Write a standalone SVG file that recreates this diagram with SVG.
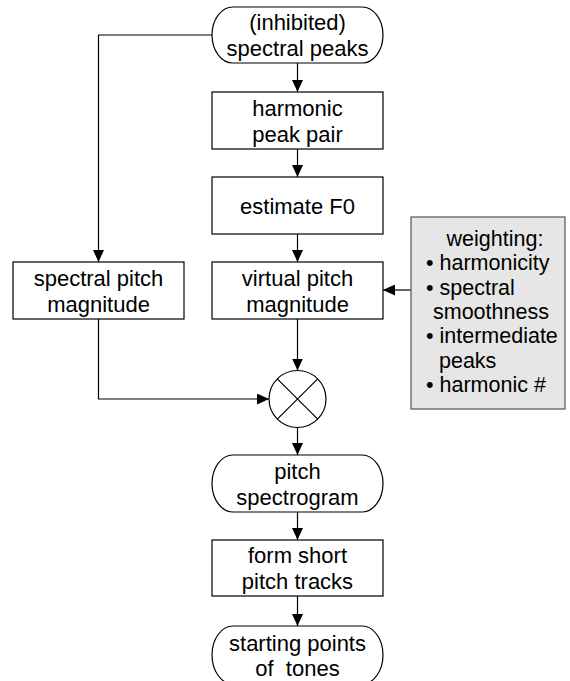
<svg xmlns="http://www.w3.org/2000/svg" width="570" height="681" viewBox="0 0 570 681">
  <style>
    .shape { fill: #ffffff; stroke: #000000; stroke-width: 1.2; }
    .note { fill: #e6e6e6; stroke: #555555; stroke-width: 1.2; }
    .wire { fill: none; stroke: #000000; stroke-width: 1.2; }
    .lbl { font-family: "Liberation Sans", Arial, sans-serif; font-size: 22px; fill: #000000; text-anchor: middle; }
    .lft { font-family: "Liberation Sans", Arial, sans-serif; font-size: 21.5px; fill: #000000; text-anchor: start; white-space: pre; }
  </style>
  <defs>
    <marker id="head" markerUnits="userSpaceOnUse" markerWidth="12" markerHeight="11" refX="12" refY="5.5" orient="auto">
      <path d="M0,0 L12,5.5 L0,11 Z" fill="#000000"/>
    </marker>
  </defs>

  <g id="connectors">
    <line class="wire" x1="297.5" y1="63" x2="297.5" y2="92" marker-end="url(#head)"/>
    <line class="wire" x1="297.5" y1="149" x2="297.5" y2="177" marker-end="url(#head)"/>
    <line class="wire" x1="297.5" y1="234" x2="297.5" y2="262" marker-end="url(#head)"/>
    <line class="wire" x1="297.5" y1="319" x2="297.5" y2="370.5" marker-end="url(#head)"/>
    <polyline class="wire" points="212,35 98.5,35 98.5,262" marker-end="url(#head)"/>
    <polyline class="wire" points="98.5,319 98.5,399 269,399" marker-end="url(#head)"/>
    <line class="wire" x1="411" y1="290" x2="383" y2="290" marker-end="url(#head)"/>
    <line class="wire" x1="297.5" y1="427.5" x2="297.5" y2="455" marker-end="url(#head)"/>
    <line class="wire" x1="297.5" y1="512" x2="297.5" y2="540" marker-end="url(#head)"/>
    <line class="wire" x1="297.5" y1="596" x2="297.5" y2="626" marker-end="url(#head)"/>
  </g>

  <g id="spectral-peaks">
    <path class="shape" d="M233,7 H362 A21,28 0 0 1 362,63 H233 A21,28 0 0 1 233,7 Z"/>
    <text class="lbl" x="297.5" y="30">(inhibited)</text>
    <text class="lbl" x="297.5" y="56">spectral peaks</text>
  </g>

  <g id="harmonic-peak-pair">
    <rect class="shape" x="212" y="92" width="171" height="57"/>
    <text class="lbl" x="297.5" y="115.5">harmonic</text>
    <text class="lbl" x="297.5" y="141.5">peak pair</text>
  </g>

  <g id="estimate-f0">
    <rect class="shape" x="212" y="177" width="171" height="57"/>
    <text class="lbl" x="297.5" y="213.5">estimate F0</text>
  </g>

  <g id="virtual-pitch-magnitude">
    <rect class="shape" x="212" y="262" width="171" height="57"/>
    <text class="lbl" x="297.5" y="285.5">virtual pitch</text>
    <text class="lbl" x="297.5" y="311.5">magnitude</text>
  </g>

  <g id="spectral-pitch-magnitude">
    <rect class="shape" x="13" y="262" width="171" height="57"/>
    <text class="lbl" x="98.5" y="285.5">spectral pitch</text>
    <text class="lbl" x="98.5" y="311.5">magnitude</text>
  </g>

  <g id="weighting">
    <rect class="note" x="411" y="217" width="154" height="192"/>
    <text class="lbl" x="495" y="246" style="font-size:21.5px">weighting:</text>
    <text class="lft" x="426" y="270.3">• harmonicity</text>
    <text class="lft" x="426" y="294.6">• spectral</text>
    <text class="lft" x="433" y="318.9">smoothness</text>
    <text class="lft" x="426" y="343.2">• intermediate</text>
    <text class="lft" x="439" y="367.5">peaks</text>
    <text class="lft" x="426" y="391.8">• harmonic #</text>
  </g>

  <g id="multiply">
    <circle class="shape" cx="297.5" cy="399" r="28.5"/>
    <line class="wire" x1="277.3" y1="378.8" x2="317.7" y2="419.2"/>
    <line class="wire" x1="317.7" y1="378.8" x2="277.3" y2="419.2"/>
  </g>

  <g id="pitch-spectrogram">
    <path class="shape" d="M233,455 H362 A21,28.5 0 0 1 362,512 H233 A21,28.5 0 0 1 233,455 Z"/>
    <text class="lbl" x="297.5" y="478.5">pitch</text>
    <text class="lbl" x="297.5" y="504.5">spectrogram</text>
  </g>

  <g id="form-short-pitch-tracks">
    <rect class="shape" x="212" y="540" width="171" height="56"/>
    <text class="lbl" x="297.5" y="563">form short</text>
    <text class="lbl" x="297.5" y="589">pitch tracks</text>
  </g>

  <g id="starting-points">
    <path class="shape" d="M233,626 H362 A21,29 0 0 1 362,684 H233 A21,29 0 0 1 233,626 Z"/>
    <text class="lbl" x="297.5" y="650.5">starting points</text>
    <text class="lbl" x="297.5" y="676" style="white-space:pre">of  tones</text>
  </g>
</svg>
